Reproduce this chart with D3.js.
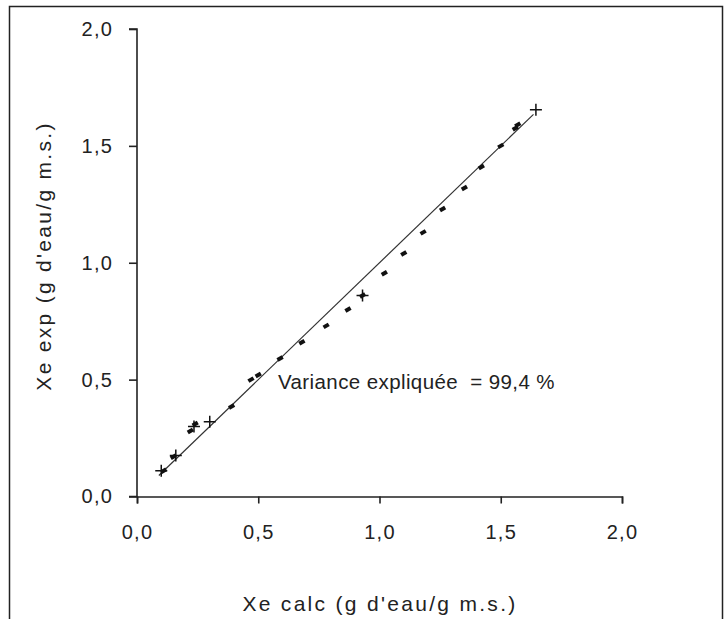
<!DOCTYPE html>
<html>
<head>
<meta charset="utf-8">
<script src="https://cdn.jsdelivr.net/npm/d3@7/dist/d3.min.js"></script>
<style>
  html, body { margin: 0; padding: 0; background: #fff; }
  svg { display: block; }
  text { font-family: "Liberation Sans", Arial, sans-serif; fill: #222; }
</style>
</head>
<body>
<svg id="chart" width="727" height="619"></svg>
<script>
// Experimental vs. calculated equilibrium moisture content
const calcDash = [0.11, 0.15, 0.22, 0.24, 0.39, 0.47, 0.50, 0.59, 0.68, 0.78, 0.87, 0.93, 1.02, 1.10, 1.18, 1.26, 1.35, 1.42, 1.50, 1.56, 1.57];
const expDash  = [0.11, 0.17, 0.28, 0.31, 0.385, 0.50, 0.52, 0.59, 0.66, 0.73, 0.80, 0.86, 0.955, 1.04, 1.13, 1.23, 1.32, 1.41, 1.50, 1.575, 1.59];
const calcPlus = [0.10, 0.16, 0.235, 0.30, 0.93, 1.645];
const expPlus  = [0.11, 0.175, 0.30, 0.32, 0.86, 1.655];
const lineX = [0.09, 1.635];
const lineY = [0.09, 1.635];
const xTicks = [0, 0.5, 1.0, 1.5, 2.0];
const yTicks = [0, 0.5, 1.0, 1.5, 2.0];
const xTitle = "Xe calc (g d'eau/g m.s.)";
const yTitle = "Xe exp (g d'eau/g m.s.)";
const note = "Variance expliquée  = 99,4 %";

const svg = d3.select("#chart");
const x = d3.scaleLinear().domain([0, 2]).range([137, 622]);
const y = d3.scaleLinear().domain([0, 2]).range([496.5, 29]);
const fmt = v => d3.format(".1f")(v).replace(".", ",");

// outer frame (bottom edge falls outside the view)
svg.append("path")
  .attr("d", "M9.5,640 V6.5 H722.5 V640")
  .attr("fill", "none").attr("stroke", "#222").attr("stroke-width", 1.5);

// axes
const xAxis = d3.axisBottom(x).tickValues(xTicks).tickFormat(fmt).tickSizeInner(7).tickSizeOuter(7).tickPadding(21);
const yAxis = d3.axisLeft(y).tickValues(yTicks).tickFormat(fmt).tickSizeInner(8).tickSizeOuter(8).tickPadding(16);

const gx = svg.append("g").attr("transform", `translate(0,${y(0)})`).call(xAxis);
const gy = svg.append("g").attr("transform", `translate(${x(0)},0)`).call(yAxis);
[gx, gy].forEach(g => {
  g.selectAll("path, line").attr("stroke", "#222").attr("stroke-width", 1.6);
  g.selectAll("text").attr("font-size", 20).attr("fill", "#222")
    .style("font-family", "'Liberation Sans', Arial, sans-serif").style("letter-spacing", "1.2px");
});
gy.select(".domain").attr("d", `M-8,${y(2)}H0V${y(0)}H-8`);

// 1:1 reference line
svg.append("line")
  .attr("x1", x(lineX[0])).attr("y1", y(lineY[0]))
  .attr("x2", x(lineX[1])).attr("y2", y(lineY[1]))
  .attr("stroke", "#333").attr("stroke-width", 1.2);

// dash markers
svg.append("g").selectAll("path").data(calcDash).join("path")
  .attr("transform", (d, i) => `translate(${x(d)},${y(expDash[i])}) rotate(-30)`)
  .attr("d", "M-3,0H3")
  .attr("stroke", "#111").attr("stroke-width", 4);

// plus markers
svg.append("g").selectAll("path").data(calcPlus).join("path")
  .attr("transform", (d, i) => `translate(${x(d)},${y(expPlus[i])})`)
  .attr("d", "M-6,0H6M0,-6V6")
  .attr("stroke", "#111").attr("stroke-width", 1.5);

// annotation
svg.append("text").attr("x", 278).attr("y", 389).attr("font-size", 20.5)
  .style("white-space", "pre").style("letter-spacing", "0.4px").text(note);

// axis titles
svg.append("text").attr("x", 380).attr("y", 611).attr("text-anchor", "middle")
  .attr("font-size", 21).style("letter-spacing", "2.3px").text(xTitle);
svg.append("text").attr("transform", `translate(51,256) rotate(-90)`).attr("text-anchor", "middle")
  .attr("font-size", 21).style("letter-spacing", "2.3px").text(yTitle);
</script>
</body>
</html>
